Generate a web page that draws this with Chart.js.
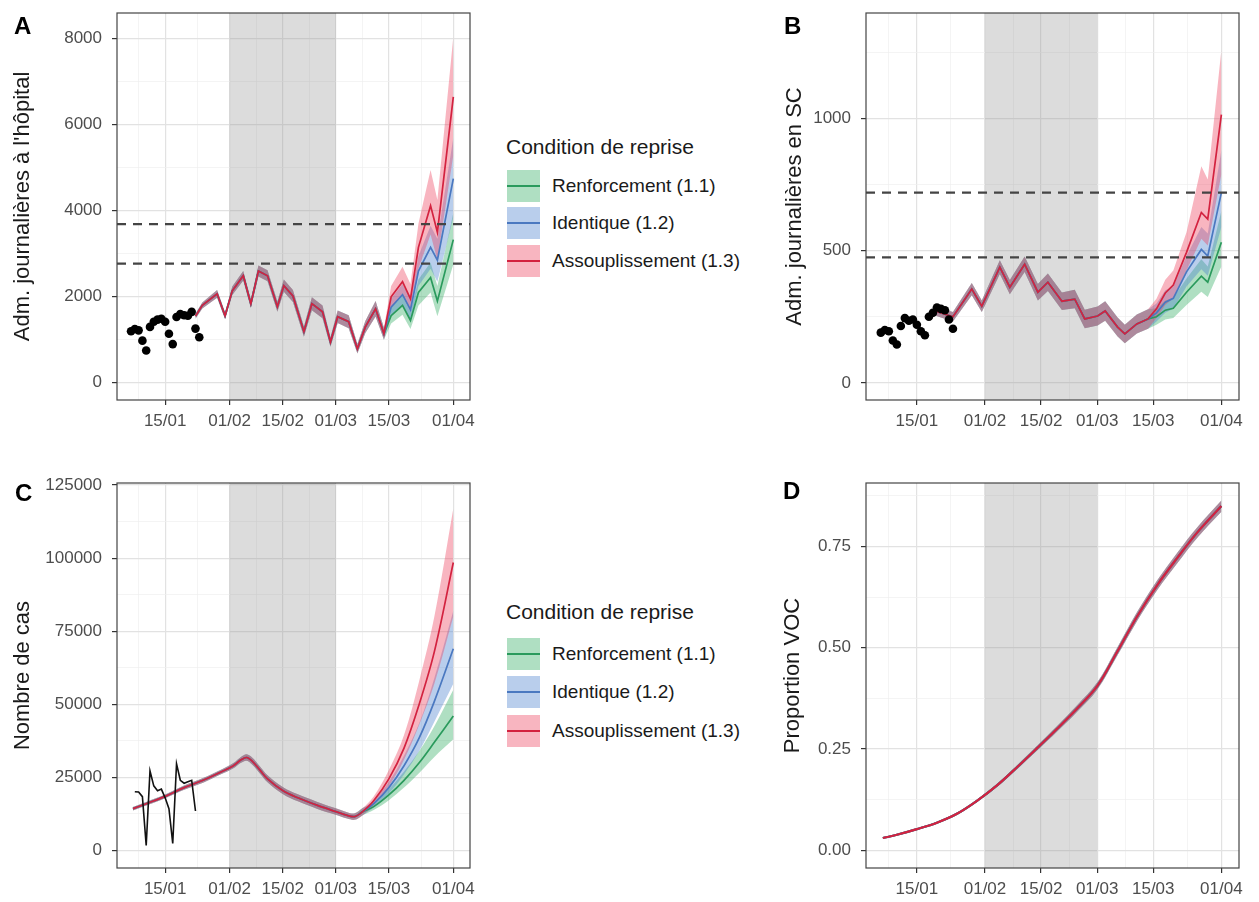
<!DOCTYPE html>
<html>
<head>
<meta charset="utf-8">
<title>Condition de reprise - projections</title>
<script src="https://cdn.jsdelivr.net/npm/chart.js@4.4.0/dist/chart.umd.min.js"></script>
<style>
  html, body { margin: 0; padding: 0; background: #fff; }
  #page { position: relative; width: 1259px; height: 902px; overflow: hidden;
          font-family: 'Liberation Sans', Arial, sans-serif; color: #1a1a1a; }
  canvas { position: absolute; }
  .tag { position: absolute; font-weight: bold; font-size: 24px; line-height: 24px; color: #000; }
  .lg-title { position: absolute; font-size: 21px; line-height: 26px; white-space: nowrap; }
  .lg-key { position: absolute; width: 33px; height: 32px; }
  .lg-key span { position: absolute; left: 0; right: 0; top: 15px; height: 2px; }
  .lg-label { position: absolute; font-size: 19px; line-height: 24px; white-space: nowrap; }
</style>
</head>
<body>
<div id="page">
  <canvas id="chartA" width="480" height="440" style="left:0;top:0"></canvas>
  <canvas id="chartB" width="481" height="440" style="left:768px;top:0"></canvas>
  <canvas id="chartC" width="480" height="440" style="left:0;top:460px"></canvas>
  <canvas id="chartD" width="481" height="440" style="left:768px;top:460px"></canvas>
  <div class="tag" style="left:14px;top:14px">A</div>
  <div class="tag" style="left:784px;top:14px">B</div>
  <div class="tag" style="left:15px;top:481px">C</div>
  <div class="tag" style="left:783px;top:479px">D</div>
</div>
<script>
// ---- x axis (day of year 2021) ----
const xBreakDays = [15, 32, 46, 60, 74, 91];
const xBreakLabels = ['15/01', '01/02', '15/02', '01/03', '15/03', '01/04'];
const xMinorDays = [8, 23.5, 39, 53, 67, 82.5];
const shadeDays = [32, 60];

const legendTitle = 'Condition de reprise';
const scenarioNames = ['Renforcement (1.1)', 'Identique (1.2)', 'Assouplissement (1.3)'];
const lineColors = ['#2a9a5c', '#4a78c0', '#d3223f'];
const fillColors = ['rgba(46,170,95,0.38)', 'rgba(72,125,205,0.38)', 'rgba(236,60,90,0.38)'];

// ---- A : hospital admissions ----
const hospObsDays = [6, 7, 8, 9, 10, 11, 12, 13, 14, 15, 16, 17, 18, 19, 20, 21, 22, 23, 24];
const hospObs = [1200, 1250, 1220, 980, 750, 1300, 1420, 1470, 1490, 1420, 1140, 900, 1530, 1600, 1570, 1560, 1650, 1260, 1060];
const hospDays = [23.0, 24.8, 28.7, 30.8, 32.7, 35.6, 37.6, 39.6, 42.0, 44.6, 46.3, 48.7, 51.6, 53.7, 56.5, 58.6, 60.5, 63.4, 65.7, 67.8, 70.5, 72.7];
const hospMid = [1550, 1800, 2070, 1560, 2140, 2490, 1840, 2600, 2490, 1770, 2260, 2020, 1190, 1840, 1650, 950, 1535, 1420, 790, 1300, 1720, 1140];
const hospLo = [1490, 1730, 1980, 1480, 2040, 2380, 1740, 2470, 2360, 1650, 2120, 1880, 1070, 1690, 1500, 840, 1390, 1270, 680, 1160, 1540, 1000];
const hospHi = [1610, 1870, 2160, 1640, 2240, 2600, 1940, 2730, 2620, 1890, 2400, 2160, 1310, 1990, 1800, 1060, 1680, 1570, 900, 1440, 1900, 1280];
const hospTailDays = [74.6, 77.6, 79.7, 81.8, 85.0, 86.8, 91.0];
const hospTailMid = [
  [1560, 1800, 1450, 2100, 2450, 1900, 3330],
  [1760, 2050, 1700, 2600, 3150, 2850, 4750],
  [2000, 2350, 1950, 3150, 4120, 3500, 6650]];
const hospTailLo = [
  [1380, 1580, 1250, 1800, 2100, 1550, 2750],
  [1560, 1800, 1450, 2250, 2650, 2350, 3850],
  [1750, 2050, 1650, 2650, 3450, 2850, 5300]];
const hospTailHi = [
  [1740, 2020, 1650, 2400, 2800, 2250, 3950],
  [1960, 2300, 1950, 2950, 3650, 3350, 5700],
  [2250, 2700, 2300, 3700, 4950, 4250, 8050]];
const hospThresholds = [2770, 3690];
const hospTicks = [0, 2000, 4000, 6000, 8000];
const hospMinor = [1000, 3000, 5000, 7000];

// ---- B : ICU admissions ----
const icuObsDays = [6, 7, 8, 9, 10, 11, 12, 13, 14, 15, 16, 17, 18, 19, 20, 21, 22, 23, 24];
const icuObs = [190, 200, 195, 160, 145, 215, 245, 235, 240, 220, 195, 180, 250, 265, 285, 280, 275, 240, 205];
const icuDays = [19.5, 24.0, 28.7, 31.2, 35.7, 38.2, 41.9, 45.2, 47.7, 51.2, 54.4, 56.9, 60.1, 62.0, 65.1, 66.9, 69.9, 72.7];
const icuMid = [272, 250, 355, 290, 438, 362, 449, 343, 381, 309, 317, 242, 253, 272, 211, 185, 223, 242];
const icuLo = [255, 232, 332, 268, 412, 335, 420, 312, 348, 276, 282, 207, 217, 235, 175, 150, 187, 205];
const icuHi = [289, 268, 378, 312, 464, 389, 478, 374, 414, 342, 352, 277, 289, 309, 247, 220, 259, 279];
const icuTailDays = [74.8, 77.0, 79.0, 82.3, 86.0, 87.6, 91.0];
const icuTailMid = [
  [250, 275, 282, 343, 404, 381, 532],
  [265, 305, 320, 420, 505, 480, 720],
  [280, 340, 370, 494, 645, 620, 1015]];
const icuTailLo = [
  [220, 240, 245, 295, 345, 325, 440],
  [232, 265, 280, 365, 430, 405, 590],
  [245, 295, 320, 425, 545, 520, 790]];
const icuTailHi = [
  [282, 312, 322, 395, 468, 440, 650],
  [300, 350, 365, 480, 590, 565, 880],
  [318, 390, 425, 570, 820, 770, 1260]];
const icuThresholds = [475, 720];
const icuTicks = [0, 500, 1000];
const icuMinor = [250, 750, 1250];

// ---- C : cases ----
const caseObsDays = [7, 8, 9, 10, 11, 12, 13, 14, 15, 16, 17, 18, 19, 20, 21, 22, 23];
const caseObs = [20100, 20000, 18400, 1700, 27200, 22100, 20400, 21000, 18000, 14300, 2400, 29600, 24000, 23000, 23500, 24000, 13500];
const caseDays = [6.5, 10, 15, 20, 25, 30, 33, 35, 36.5, 38, 40, 42, 46, 50, 55, 60, 63, 65, 67];
const caseMid = [14300, 16000, 18500, 21500, 24000, 27000, 29000, 31000, 31800, 30500, 27500, 24500, 20500, 18000, 15500, 13300, 12000, 11600, 13200];
const caseLo = [13700, 15400, 17900, 20800, 23200, 26200, 28100, 30000, 30700, 29300, 26300, 23300, 19300, 16800, 14300, 12200, 10900, 10500, 12000];
const caseHi = [14900, 16600, 19100, 22200, 24800, 27800, 29900, 32000, 32900, 31700, 28700, 25700, 21700, 19200, 16700, 14400, 13100, 12700, 14400];
const caseTailDays = [70, 74, 78, 82, 86, 91];
const caseTailMid = [
  [15000, 19000, 24000, 30000, 37000, 46000],
  [16000, 21500, 29000, 38500, 51000, 69000],
  [17000, 24500, 35000, 50000, 68000, 98500]];
const caseTailLo = [
  [13800, 17200, 21500, 26500, 32000, 38000],
  [14700, 19500, 26000, 34000, 44000, 57000],
  [15500, 22000, 31000, 43000, 57000, 80000]];
const caseTailHi = [
  [16200, 21000, 27000, 34000, 42500, 55000],
  [17300, 23500, 32500, 43500, 59000, 82000],
  [18500, 27500, 39500, 58000, 80000, 117000]];
const caseTicks = [0, 25000, 50000, 75000, 100000, 125000];
const caseMinor = [12500, 37500, 62500, 87500, 112500];

// ---- D : VOC proportion ----
const vocDays = [6.5, 10, 15, 20, 25, 30, 35, 40, 45, 50, 55, 60, 65, 70, 75, 80, 85, 91];
const vocMid = [0.030, 0.038, 0.052, 0.068, 0.090, 0.122, 0.160, 0.205, 0.252, 0.300, 0.350, 0.405, 0.490, 0.578, 0.655, 0.722, 0.785, 0.850];
const vocLo = [0.028, 0.036, 0.050, 0.066, 0.087, 0.119, 0.156, 0.200, 0.246, 0.293, 0.342, 0.396, 0.480, 0.567, 0.643, 0.709, 0.772, 0.836];
const vocHi = [0.032, 0.040, 0.054, 0.070, 0.093, 0.125, 0.164, 0.210, 0.258, 0.307, 0.358, 0.414, 0.500, 0.589, 0.667, 0.735, 0.798, 0.864];
const vocTicks = [0, 0.25, 0.5, 0.75];
const vocMinor = [0.125, 0.375, 0.625, 0.875];

const FONT = "'Liberation Sans', Arial, sans-serif";
Chart.defaults.font.family = FONT;

// shaded period, threshold lines and panel border
const panelDeco = {
  id: 'panelDeco',
  beforeDatasetsDraw(chart) {
    const {ctx, chartArea: a, scales: {x}} = chart;
    const x0 = x.getPixelForValue(shadeDays[0]);
    const x1 = x.getPixelForValue(shadeDays[1]);
    ctx.save();
    ctx.fillStyle = 'rgba(140,140,140,0.3)';
    ctx.fillRect(x0, a.top, x1 - x0, a.bottom - a.top);
    ctx.restore();
  },
  afterDatasetsDraw(chart, args, opts) {
    const {ctx, chartArea: a, scales: {y}} = chart;
    ctx.save();
    ctx.strokeStyle = '#444';
    ctx.lineWidth = 2.3;
    ctx.setLineDash([9, 7]);
    (opts.thresholds || []).forEach(v => {
      const py = y.getPixelForValue(v);
      ctx.beginPath();
      ctx.moveTo(a.left, py);
      ctx.lineTo(a.right, py);
      ctx.stroke();
    });
    ctx.restore();
  },
  afterDraw(chart) {
    const {ctx, chartArea: a} = chart;
    ctx.save();
    ctx.strokeStyle = '#444';
    ctx.lineWidth = 1.2;
    ctx.strokeRect(a.left, a.top, a.right - a.left, a.bottom - a.top);
    ctx.restore();
  }
};

function points(days, shared, tailDays, tail) {
  const xs = days.concat(tailDays || []);
  const ys = shared.concat(tail || []);
  return xs.map((d, k) => ({x: d, y: ys[k]}));
}

function buildDatasets(p) {
  const sets = [];
  const tension = p.smooth ? 0.35 : 0;
  for (let s = 0; s < 3; s++) {
    sets.push({
      data: points(p.days, p.lo, p.tailDays, p.tailLo && p.tailLo[s]),
      borderColor: 'rgba(0,0,0,0)', borderWidth: 0, pointRadius: 0, fill: false, tension
    });
    sets.push({
      data: points(p.days, p.hi, p.tailDays, p.tailHi && p.tailHi[s]),
      borderColor: 'rgba(0,0,0,0)', borderWidth: 0, pointRadius: 0,
      fill: '-1', backgroundColor: fillColors[s], tension
    });
  }
  for (let s = 0; s < 3; s++) {
    sets.push({
      data: points(p.days, p.mid, p.tailDays, p.tailMid && p.tailMid[s]),
      borderColor: lineColors[s], borderWidth: p.lineWidth || 1.7, pointRadius: 0, fill: false, tension
    });
  }
  if (p.obsDays) {
    const obs = p.obsDays.map((d, k) => ({x: d, y: p.obs[k]}));
    if (p.obsAsLine) {
      sets.push({data: obs, borderColor: '#111', borderWidth: 1.6, pointRadius: 0, fill: false, tension: 0});
    } else {
      sets.push({data: obs, showLine: false, pointRadius: 4.3, pointBackgroundColor: '#000',
                 pointBorderColor: '#000', pointBorderWidth: 0, borderColor: '#000', fill: false});
    }
  }
  // first in the list is drawn first (bottom)
  sets.forEach((d, i) => { d.order = sets.length - i; });
  return sets;
}

function gridStyle(majors) {
  const isMajor = ctx => ctx.tick && majors.includes(ctx.tick.value);
  return {
    color: ctx => isMajor(ctx) ? '#e2e2e2' : '#efefef',
    lineWidth: ctx => isMajor(ctx) ? 1.2 : 0.7,
    tickColor: ctx => isMajor(ctx) ? '#333' : 'rgba(0,0,0,0)',
    tickLength: 5
  };
}

function makePanel(id, p) {
  new Chart(document.getElementById(id), {
    type: 'line',
    data: {datasets: buildDatasets(p)},
    plugins: [panelDeco],
    options: {
      responsive: false,
      animation: false,
      events: [],
      layout: {padding: {left: 0, top: p.padTop, right: 10, bottom: 0}},
      plugins: {
        legend: {display: false},
        tooltip: {enabled: false},
        panelDeco: {thresholds: p.thresholds || []}
      },
      scales: {
        x: {
          type: 'linear', min: 2.3, max: 95.4,
          afterBuildTicks: s => { s.ticks = xBreakDays.concat(xMinorDays).sort((a, b) => a - b).map(v => ({value: v})); },
          afterFit: s => { s.height = p.xHeight; s.paddingLeft = 0; s.paddingRight = 0; },
          grid: gridStyle(xBreakDays),
          border: {display: false},
          ticks: {
            autoSkip: false, maxRotation: 0, padding: 6,
            color: '#4d4d4d', font: {size: 17},
            callback: v => { const i = xBreakDays.indexOf(v); return i >= 0 ? xBreakLabels[i] : ''; }
          }
        },
        y: {
          type: 'linear', min: p.yMin, max: p.yMax,
          afterBuildTicks: s => { s.ticks = p.yTicks.concat(p.yMinor).sort((a, b) => a - b).map(v => ({value: v})); },
          afterFit: s => { s.width = p.yWidth; s.paddingTop = 0; s.paddingBottom = 0; },
          grid: gridStyle(p.yTicks),
          border: {display: false},
          ticks: {
            autoSkip: false, padding: 10,
            color: '#4d4d4d', font: {size: 17},
            callback: v => p.yTicks.includes(v) ? p.fmt(v) : ''
          },
          title: {
            display: true, text: p.title, color: '#1a1a1a',
            font: {size: 22}, padding: {top: p.titlePad, bottom: 0}
          }
        }
      }
    }
  });
}

makePanel('chartA', {
  days: hospDays, mid: hospMid, lo: hospLo, hi: hospHi,
  tailDays: hospTailDays, tailMid: hospTailMid, tailLo: hospTailLo, tailHi: hospTailHi,
  obsDays: hospObsDays, obs: hospObs, thresholds: hospThresholds,
  yMin: -400, yMax: 8600, yTicks: hospTicks, yMinor: hospMinor, fmt: v => String(v),
  title: "Adm. journalières à l'hôpital", titlePad: 10,
  padTop: 13, xHeight: 40, yWidth: 117
});

makePanel('chartB', {
  days: icuDays, mid: icuMid, lo: icuLo, hi: icuHi,
  tailDays: icuTailDays, tailMid: icuTailMid, tailLo: icuTailLo, tailHi: icuTailHi,
  obsDays: icuObsDays, obs: icuObs, thresholds: icuThresholds,
  yMin: -65, yMax: 1400, yTicks: icuTicks, yMinor: icuMinor, fmt: v => String(v),
  title: 'Adm. journalières en SC', titlePad: 14,
  padTop: 13, xHeight: 40, yWidth: 98
});

makePanel('chartC', {
  days: caseDays, mid: caseMid, lo: caseLo, hi: caseHi, smooth: true,
  tailDays: caseTailDays, tailMid: caseTailMid, tailLo: caseTailLo, tailHi: caseTailHi,
  obsDays: caseObsDays, obs: caseObs, obsAsLine: true,
  yMin: -6000, yMax: 125700, yTicks: caseTicks, yMinor: caseMinor, fmt: v => String(v),
  title: 'Nombre de cas', titlePad: 10,
  padTop: 23, xHeight: 32, yWidth: 117
});

makePanel('chartD', {
  days: vocDays, mid: vocMid, lo: vocLo, hi: vocHi, smooth: true, lineWidth: 2.2,
  yMin: -0.044, yMax: 0.907, yTicks: vocTicks, yMinor: vocMinor, fmt: v => v.toFixed(2),
  title: 'Proportion VOC', titlePad: 12,
  padTop: 23, xHeight: 32, yWidth: 98
});

// legends (same content twice, beside panels A and C)
function makeLegend(titleCenter, rowCenters) {
  const page = document.getElementById('page');
  const t = document.createElement('div');
  t.className = 'lg-title';
  t.style.left = '506px';
  t.style.top = (titleCenter - 13) + 'px';
  t.textContent = legendTitle;
  page.appendChild(t);
  scenarioNames.forEach((name, s) => {
    const key = document.createElement('div');
    key.className = 'lg-key';
    key.style.left = '507px';
    key.style.top = (rowCenters[s] - 16) + 'px';
    key.style.background = fillColors[s];
    const ln = document.createElement('span');
    ln.style.background = lineColors[s];
    key.appendChild(ln);
    page.appendChild(key);
    const lab = document.createElement('div');
    lab.className = 'lg-label';
    lab.style.left = '552px';
    lab.style.top = (rowCenters[s] - 12) + 'px';
    lab.textContent = name;
    page.appendChild(lab);
  });
}
makeLegend(147, [186, 223, 261]);
makeLegend(612, [654, 692, 731]);
</script>
</body>
</html>
